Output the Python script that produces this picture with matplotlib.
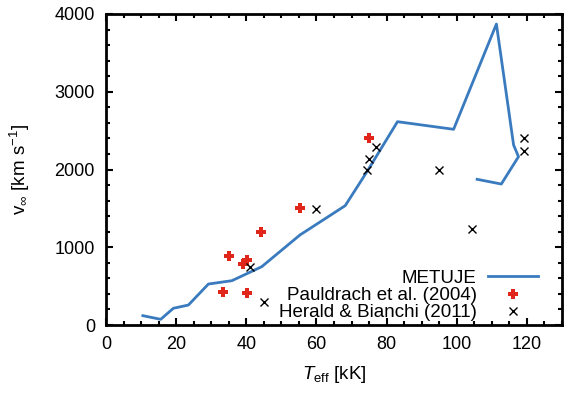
import matplotlib
matplotlib.use("Agg")
import matplotlib.pyplot as plt
from matplotlib.ticker import MultipleLocator

plt.rcParams['font.family'] = ['Liberation Sans', 'DejaVu Sans']
plt.rcParams['mathtext.fontset'] = 'custom'
plt.rcParams['mathtext.rm'] = 'Liberation Sans'
plt.rcParams['mathtext.it'] = 'Liberation Sans:italic'

metuje_T = [10.5, 15.6, 19.2, 23.5, 29.2, 35.9, 44.4, 55.3, 68.2, 74.4, 83.1, 99.1, 111.3, 116.2, 117.6, 112.7, 105.8]
metuje_v = [120, 73, 215, 257, 527, 570, 750, 1158, 1535, 1972, 2615, 2517, 3871, 2315, 2165, 1813, 1874]

paul_T = [75.1, 55.2, 44.1, 35.2, 39.0, 40.1, 33.3, 40.1]
paul_v = [2400, 1500, 1200, 890, 790, 840, 430, 410]

her_T = [41.1, 45.1, 59.8, 74.4, 74.9, 77.0, 94.9, 104.4, 119.3, 119.3]
her_v = [740, 290, 1490, 1990, 2140, 2290, 1990, 1240, 2400, 2240]

fig = plt.figure(figsize=(5.7, 3.95), dpi=100)
ax = fig.add_axes([106/570, 1-325/395, (562-106)/570, (325-14)/395])

ax.plot(metuje_T, metuje_v, color='#3a7bbf', lw=2, label='METUJE')
ax.plot(paul_T, paul_v, ls='none', marker='P', color='#e0261b', ms=7, mew=0, label='Pauldrach et al. (2004)')
ax.plot(her_T, her_v, ls='none', marker='x', color='black', ms=5.5, mew=1, label='Herald & Bianchi (2011)')

ax.set_xlim(0, 130)
ax.set_ylim(0, 4000)
ax.xaxis.set_major_locator(MultipleLocator(20))
ax.xaxis.set_minor_locator(MultipleLocator(5))
ax.yaxis.set_major_locator(MultipleLocator(1000))
ax.yaxis.set_minor_locator(MultipleLocator(200))
ax.tick_params(which='both', direction='in', top=True, right=True, labelsize=13, width=1.5)
ax.tick_params(which='major', length=5, pad=8)
ax.tick_params(which='minor', length=3)
for s in ax.spines.values():
    s.set_linewidth(2)

ax.set_xlabel(r'$T_{\rm eff}$ [kK]', fontsize=13.5)
ax.set_ylabel(r'$\mathrm{v}_\infty$ [km s$^{-1}$]', fontsize=13.5)
ax.xaxis.set_label_coords(0.5, -0.125)
ax.yaxis.set_label_coords(-0.162, 0.5)

leg = ax.legend(loc='lower right', bbox_to_anchor=(0.947, 0.012), markerfirst=False,
                frameon=False, fontsize=13.5, handlelength=2.67, labelspacing=0.0,
                borderaxespad=0.0, borderpad=0.0, handletextpad=0.6)
for t in leg.get_texts():
    t.set_ha('right')
leg._legend_box.align = 'right'

fig.savefig('out.png', dpi=100)
